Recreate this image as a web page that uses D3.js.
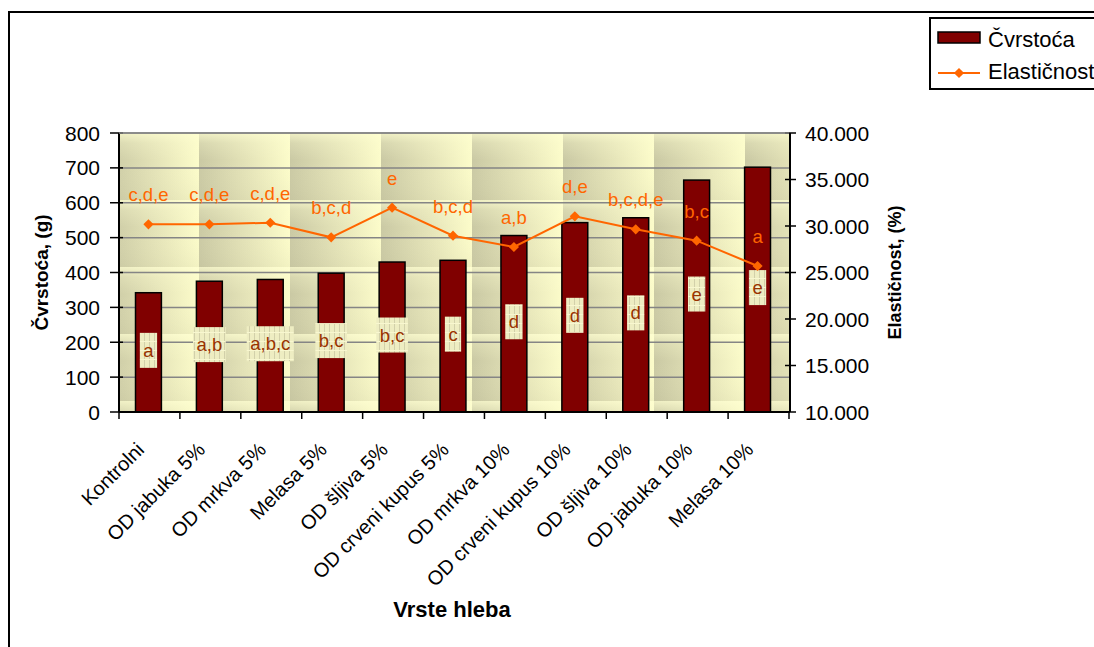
<!DOCTYPE html>
<html>
<head>
<meta charset="utf-8">
<script src="https://cdn.jsdelivr.net/npm/d3@7"></script>
<style>
  html, body { margin: 0; padding: 0; background: #fff; }
  svg { display: block; font-family: "Liberation Sans", Arial, sans-serif; }
</style>
</head>
<body>
<svg id="chart" width="1094" height="647"></svg>
<script>
// ---------- data ----------
const categories = ["Kontrolni", "OD jabuka 5%", "OD mrkva 5%", "Melasa 5%", "OD šljiva 5%",
  "OD crveni kupus 5%", "OD mrkva 10%", "OD crveni kupus 10%", "OD šljiva 10%", "OD jabuka 10%", "Melasa 10%"];
const cvrstoca = [342, 375, 380, 398, 430, 435, 506, 543, 557, 665, 702];
const elasticnost = [30.18, 30.18, 30.35, 28.78, 31.97, 28.96, 27.74, 31.04, 29.64, 28.42, 25.70];
const barLetters = ["a", "a,b", "a,b,c", "b,c", "b,c", "c", "d", "d", "d", "e", "e"];
const lineLetters = ["c,d,e", "c,d,e", "c,d,e", "b,c,d", "e", "b,c,d", "a,b", "d,e", "b,c,d,e", "b,c", "a"];
const leftTicks = [0, 100, 200, 300, 400, 500, 600, 700, 800];
const rightTicks = [10, 15, 20, 25, 30, 35, 40];
const seriesNames = ["Čvrstoća", "Elastičnost"];

// ---------- layout ----------
const L = 119, R = 789, T = 133, B = 412;
const svg = d3.select("#chart");
const defs = svg.append("defs");

// background texture
const hg = defs.append("linearGradient").attr("id", "hg").attr("x1", 0).attr("x2", 1).attr("y1", 0).attr("y2", 0);
hg.append("stop").attr("offset", 0).attr("stop-color", "#cac9a4");
hg.append("stop").attr("offset", 0.5).attr("stop-color", "#e3e2b7");
hg.append("stop").attr("offset", 1).attr("stop-color", "#fcfcca");
const vg = defs.append("linearGradient").attr("id", "vg").attr("x1", 0).attr("x2", 0).attr("y1", 0).attr("y2", 1);
vg.append("stop").attr("offset", 0).attr("stop-color", "#ffffd2").attr("stop-opacity", 0.7);
vg.append("stop").attr("offset", 0.15).attr("stop-color", "#ffffd2").attr("stop-opacity", 0.25);
vg.append("stop").attr("offset", 0.4).attr("stop-color", "#ffffd2").attr("stop-opacity", 0);
vg.append("stop").attr("offset", 1).attr("stop-color", "#b0ae8a").attr("stop-opacity", 0.12);
const pat = defs.append("pattern").attr("id", "bgpat").attr("patternUnits", "userSpaceOnUse")
  .attr("x", 108).attr("y", T).attr("width", 91).attr("height", 67);
pat.append("rect").attr("width", 91).attr("height", 67).attr("fill", "url(#hg)");
pat.append("rect").attr("width", 91).attr("height", 67).attr("fill", "url(#vg)");

// label box texture
const lp = defs.append("pattern").attr("id", "lblpat").attr("patternUnits", "userSpaceOnUse")
  .attr("width", 5).attr("height", 9);
lp.append("rect").attr("width", 5).attr("height", 9).attr("fill", "#eeedc2");
lp.append("rect").attr("x", 4).attr("width", 1).attr("height", 9).attr("fill", "#d2d0aa");
lp.append("rect").attr("y", 8).attr("width", 5).attr("height", 1).attr("fill", "#f8f7d0");

// chart border
svg.append("rect").attr("x", 9).attr("y", 12).attr("width", 1100).attr("height", 700)
  .attr("fill", "none").attr("stroke", "#000").attr("stroke-width", 2);

// scales
const x = d3.scaleBand().domain(categories).range([L, R]).paddingInner(0.575).paddingOuter(0.2875);
const xc = d => x(d) + x.bandwidth() / 2;
const yL = d3.scaleLinear().domain([0, 800]).range([B, T]);
const yR = d3.scaleLinear().domain([10, 40]).range([B, T]);

// plot background
svg.append("rect").attr("x", L).attr("y", T).attr("width", R - L).attr("height", B - T).attr("fill", "url(#bgpat)");

// gridlines
svg.append("g").selectAll("line").data(leftTicks.filter(v => v > 0)).join("line")
  .attr("x1", L).attr("x2", R).attr("y1", d => yL(d)).attr("y2", d => yL(d))
  .attr("stroke", "#858585").attr("stroke-width", 1.5);

// bars
svg.append("g").selectAll("rect").data(categories).join("rect")
  .attr("x", d => x(d) - 1).attr("width", x.bandwidth())
  .attr("y", (d, i) => yL(cvrstoca[i])).attr("height", (d, i) => B - yL(cvrstoca[i]))
  .attr("fill", "#800000").attr("stroke", "#000").attr("stroke-width", 1.5);

// bar labels
const bl = svg.append("g").attr("font-size", 18.5).attr("fill", "#993300");
categories.forEach((c, i) => {
  const cx = xc(c) - 1, cy = yL(cvrstoca[i] / 2) - 2;
  const t = bl.append("text").attr("x", cx).attr("y", cy).attr("text-anchor", "middle")
    .attr("dominant-baseline", "central").text(barLetters[i]);
  const w = t.node().getComputedTextLength() + 7;
  bl.insert("rect", "text").attr("x", cx - w / 2).attr("y", cy - 17.5).attr("width", w).attr("height", 35)
    .attr("fill", "url(#lblpat)");
});

// axes
const axisG = svg.append("g").attr("font-size", 21).attr("fill", "#000");
// left axis
axisG.append("line").attr("x1", L).attr("x2", L).attr("y1", T).attr("y2", B).attr("stroke", "#000").attr("stroke-width", 2);
axisG.append("g").selectAll("line").data(leftTicks).join("line")
  .attr("x1", L - 9).attr("x2", L + 4).attr("y1", d => yL(d)).attr("y2", d => yL(d))
  .attr("stroke", "#000").attr("stroke-width", 1.5);
axisG.append("g").selectAll("text").data(leftTicks).join("text")
  .attr("x", 100).attr("y", d => yL(d)).attr("dy", "0.36em").attr("text-anchor", "end").text(d => d);
// right axis
axisG.append("line").attr("x1", R + 1).attr("x2", R + 1).attr("y1", T).attr("y2", B).attr("stroke", "#000").attr("stroke-width", 2);
axisG.append("g").selectAll("line").data(rightTicks).join("line")
  .attr("x1", R - 4).attr("x2", R + 7).attr("y1", d => yR(d)).attr("y2", d => yR(d))
  .attr("stroke", "#000").attr("stroke-width", 1.5);
axisG.append("g").selectAll("text").data(rightTicks).join("text")
  .attr("x", 805).attr("y", d => yR(d)).attr("dy", "0.36em").attr("text-anchor", "start")
  .text(d => d3.format(".3f")(d));
// top border of plot
svg.append("line").attr("x1", L).attr("x2", R).attr("y1", T).attr("y2", T).attr("stroke", "#858585").attr("stroke-width", 1.5);
// bottom axis
axisG.append("line").attr("x1", L).attr("x2", R + 1).attr("y1", B).attr("y2", B).attr("stroke", "#000").attr("stroke-width", 2);
const bounds = categories.map(c => x(c) - x.step() * x.paddingInner() / 2).concat([R]);
axisG.append("g").selectAll("line").data(bounds).join("line")
  .attr("x1", d => d).attr("x2", d => d).attr("y1", B).attr("y2", B + 7)
  .attr("stroke", "#000").attr("stroke-width", 1.5);
axisG.append("g").attr("font-size", 20).selectAll("text").data(categories).join("text")
  .attr("transform", d => `translate(${xc(d) - 4},${B + 39}) rotate(-45)`)
  .attr("text-anchor", "end").text(d => d);

// line series
const line = d3.line().x((d, i) => xc(categories[i]) - 1).y(d => yR(d));
svg.append("path").datum(elasticnost).attr("d", line).attr("fill", "none")
  .attr("stroke", "#ff6600").attr("stroke-width", 2);
svg.append("g").selectAll("path").data(elasticnost).join("path")
  .attr("d", d3.symbol().type(d3.symbolSquare).size(52))
  .attr("transform", (d, i) => `translate(${xc(categories[i]) - 1},${yR(d)}) rotate(45)`)
  .attr("fill", "#ff6600");
svg.append("g").attr("font-size", 18.5).attr("fill", "#ff6600").selectAll("text").data(elasticnost).join("text")
  .attr("x", (d, i) => xc(categories[i]) - 1).attr("y", d => yR(d) - 23)
  .attr("text-anchor", "middle").text((d, i) => lineLetters[i]);

// axis titles
svg.append("text").attr("transform", `translate(48,${(T + B) / 2}) rotate(-90)`)
  .attr("text-anchor", "middle").attr("font-weight", "bold").attr("font-size", 19).text("Čvrstoća, (g)");
svg.append("text").attr("transform", `translate(901,${(T + B) / 2}) rotate(-90)`)
  .attr("text-anchor", "middle").attr("font-weight", "bold").attr("font-size", 18).text("Elastičnost, (%)");
svg.append("text").attr("x", 452).attr("y", 617).attr("text-anchor", "middle")
  .attr("font-weight", "bold").attr("font-size", 22).text("Vrste hleba");

// legend
const lg = svg.append("g");
lg.append("rect").attr("x", 930).attr("y", 18).attr("width", 200).attr("height", 71)
  .attr("fill", "#fff").attr("stroke", "#000").attr("stroke-width", 2);
lg.append("rect").attr("x", 938).attr("y", 32).attr("width", 42).attr("height", 11)
  .attr("fill", "#800000").attr("stroke", "#000").attr("stroke-width", 1.5);
lg.append("line").attr("x1", 938).attr("x2", 980).attr("y1", 73).attr("y2", 73)
  .attr("stroke", "#ff6600").attr("stroke-width", 2);
lg.append("path").attr("d", d3.symbol().type(d3.symbolSquare).size(52))
  .attr("transform", "translate(959,73) rotate(45)").attr("fill", "#ff6600");
lg.append("text").attr("x", 988).attr("y", 47).attr("font-size", 22).text(seriesNames[0]);
lg.append("text").attr("x", 988).attr("y", 79).attr("font-size", 22).text(seriesNames[1]);
</script>
</body>
</html>
